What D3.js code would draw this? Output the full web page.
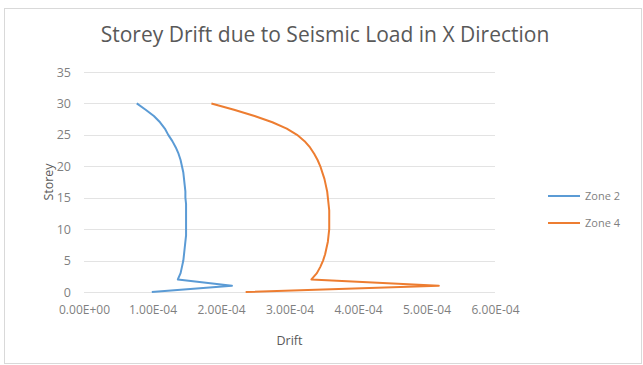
<!DOCTYPE html>
<html>
<head>
<meta charset="utf-8">
<script src="https://cdn.jsdelivr.net/npm/d3@7"></script>
<style>
  html, body { margin: 0; padding: 0; background: #fff; }
  svg { display: block; }
  text { font-family: "Open Sans", "Liberation Sans", sans-serif; }
</style>
</head>
<body>
<svg id="chart" width="643" height="365"></svg>
<script>
// Storey levels (ground = 0 up to roof = 30)
const storeys = d3.range(0, 31);

// Storey drift, units of 1e-4
const zone2 = [0.99, 2.16, 1.37, 1.41, 1.43, 1.45, 1.46, 1.47, 1.48, 1.49,
               1.49, 1.49, 1.49, 1.49, 1.49, 1.48, 1.48, 1.47, 1.46, 1.45,
               1.43, 1.41, 1.38, 1.34, 1.29, 1.23, 1.18, 1.11, 1.02, 0.90, 0.77];
const zone4 = [2.36, 5.18, 3.32, 3.40, 3.45, 3.49, 3.52, 3.54, 3.56, 3.57,
               3.58, 3.58, 3.58, 3.58, 3.57, 3.56, 3.55, 3.53, 3.51, 3.48,
               3.45, 3.41, 3.36, 3.30, 3.22, 3.11, 2.96, 2.75, 2.49, 2.19, 1.86];

const seriesNames = ["Zone 2", "Zone 4"];
const seriesColors = ["#5B9BD5", "#ED7D31"];

const xTicks = [0, 1e-4, 2e-4, 3e-4, 4e-4, 5e-4, 6e-4];
const yTicks = [0, 5, 10, 15, 20, 25, 30, 35];

const titleText = "Storey Drift due to Seismic Load in X Direction";
const xTitle = "Drift";
const yTitle = "Storey";

const svg = d3.select("#chart");

// chart frame
svg.append("rect")
  .attr("x", 4.5).attr("y", 8.5)
  .attr("width", 637).attr("height", 355)
  .attr("fill", "#fff").attr("stroke", "#d9d9d9");

const plot = { left: 84, right: 495, top: 72, bottom: 292 };

const x = d3.scaleLinear().domain([0, 6e-4]).range([plot.left, plot.right]);
const y = d3.scaleLinear().domain([0, 35]).range([plot.bottom, plot.top]);

// horizontal gridlines
svg.append("g")
  .selectAll("line")
  .data(yTicks)
  .join("line")
  .attr("x1", plot.left).attr("x2", plot.right)
  .attr("y1", d => Math.round(y(d)) + 0.5).attr("y2", d => Math.round(y(d)) + 0.5)
  .attr("stroke", "#e3e3e3").attr("stroke-width", 1);

// y axis labels
const yAxis = svg.append("g")
  .attr("transform", `translate(${plot.left},0)`)
  .call(d3.axisLeft(y).tickValues(yTicks).tickSize(0).tickPadding(13));
yAxis.select(".domain").remove();
yAxis.selectAll("text")
  .attr("fill", "#7f7f7f").style("font-size", "12.5px");

// x axis labels in Excel-style scientific notation
const fmtE = d => {
  const s = d3.format(".2e")(d).toUpperCase();
  return s.replace(/E([+-])(\d)$/, "E$10$2");
};
const xAxis = svg.append("g")
  .attr("transform", `translate(0,${plot.bottom})`)
  .call(d3.axisBottom(x).tickValues(xTicks).tickSize(0).tickPadding(13).tickFormat(fmtE));
xAxis.select(".domain").remove();
xAxis.selectAll("text")
  .attr("fill", "#7f7f7f").style("font-size", "12px");

// series lines
const line = d3.line()
  .x(d => x(d.v * 1e-4))
  .y(d => y(d.s));

[zone2, zone4].forEach((vals, i) => {
  const pts = storeys.map((s, k) => ({ s, v: vals[k] }));
  svg.append("path")
    .datum(pts)
    .attr("fill", "none")
    .attr("stroke", seriesColors[i])
    .attr("stroke-width", 2)
    .attr("stroke-linejoin", "round")
    .attr("d", line);
});

// title
svg.append("text")
  .attr("x", 325).attr("y", 42)
  .attr("text-anchor", "middle")
  .attr("fill", "#595959")
  .style("font-size", "21px")
  .text(titleText);

// axis titles
svg.append("text")
  .attr("x", (plot.left + plot.right) / 2).attr("y", 345)
  .attr("text-anchor", "middle")
  .attr("fill", "#595959")
  .style("font-size", "12.5px")
  .text(xTitle);

svg.append("text")
  .attr("transform", `translate(53,${(plot.top + plot.bottom) / 2}) rotate(-90)`)
  .attr("text-anchor", "middle")
  .attr("fill", "#595959")
  .style("font-size", "12.5px")
  .text(yTitle);

// legend
const legend = svg.append("g");
seriesNames.forEach((name, i) => {
  const ly = 196 + i * 27;
  legend.append("line")
    .attr("x1", 548).attr("x2", 580)
    .attr("y1", ly).attr("y2", ly)
    .attr("stroke", seriesColors[i]).attr("stroke-width", 2);
  legend.append("text")
    .attr("x", 585).attr("y", ly + 4)
    .attr("fill", "#7f7f7f")
    .style("font-size", "11px")
    .text(name);
});
</script>
</body>
</html>
